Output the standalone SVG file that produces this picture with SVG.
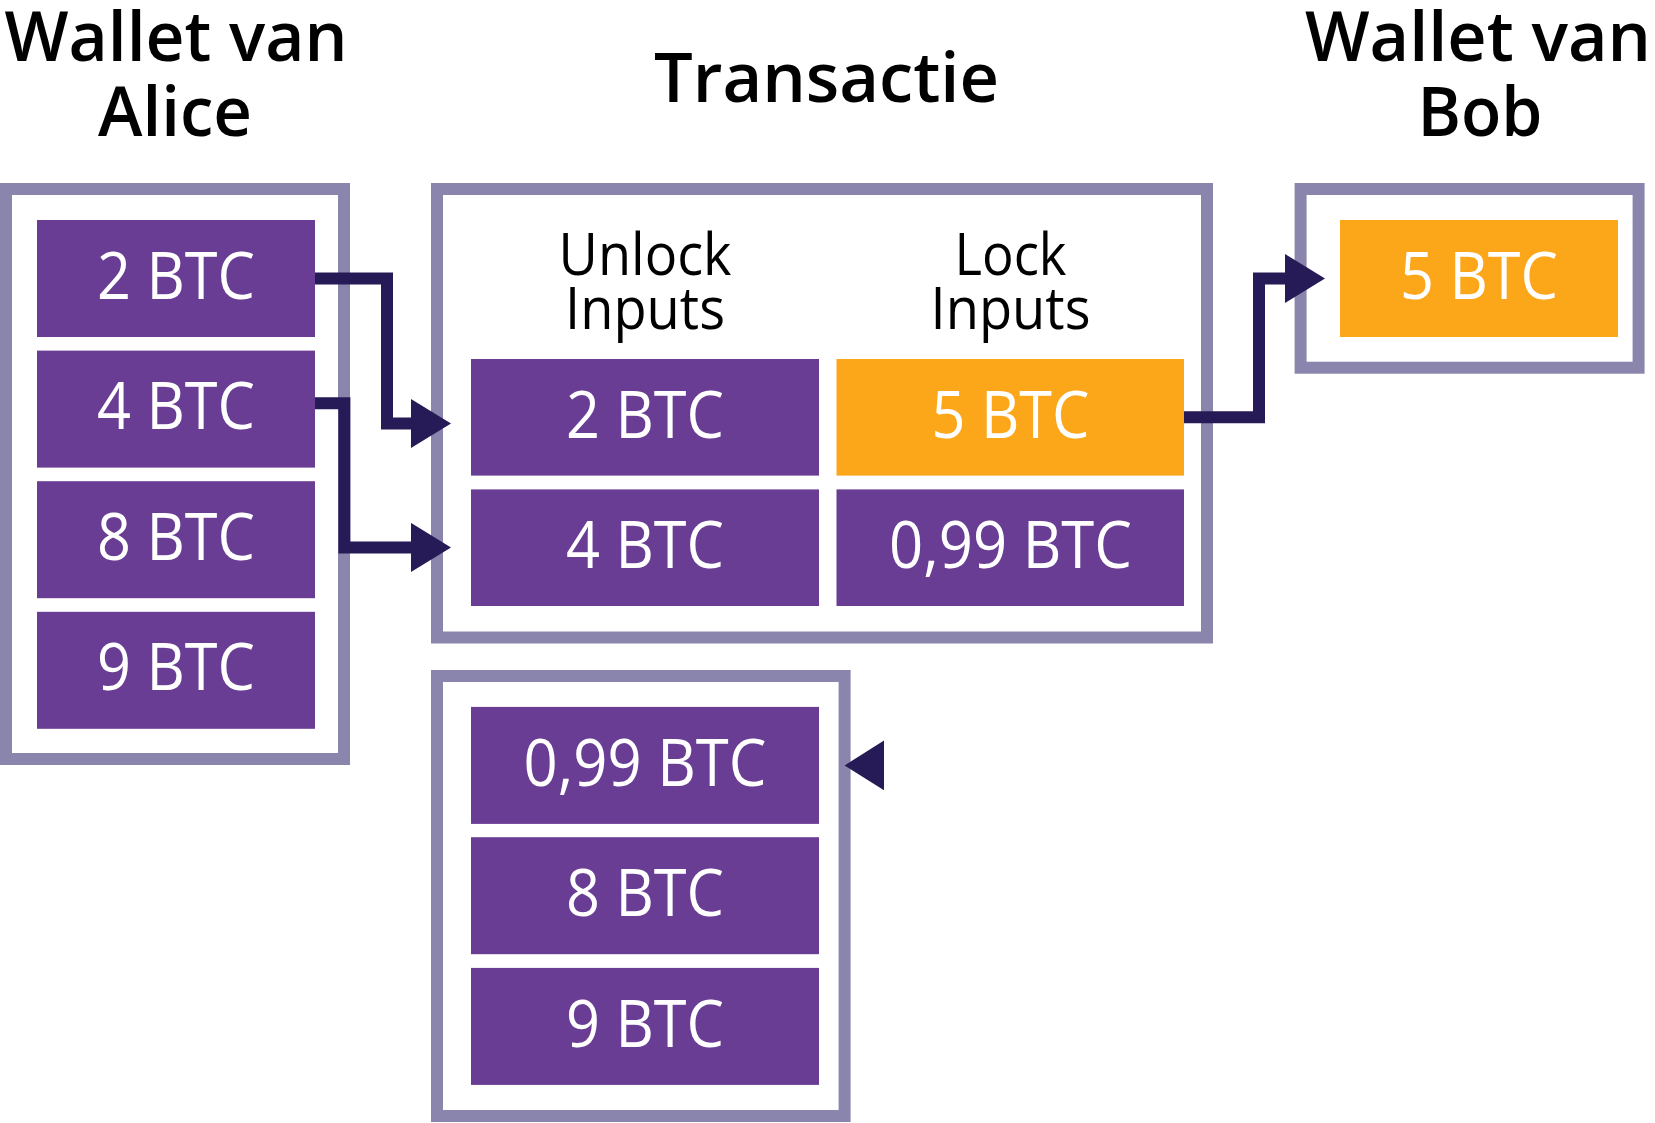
<svg xmlns="http://www.w3.org/2000/svg" width="1655" height="1123" viewBox="0 0 1655 1123">
<style>
.frame{fill:#ffffff;stroke:#8A85AD;stroke-width:12}
.coin{fill:#693D94}
.gold{fill:#FCA61A}
.ct{font-family:"Open Sans","Noto Sans",sans-serif;font-size:66px;fill:#ffffff;text-anchor:middle}
.title{font-family:"Open Sans","Noto Sans",sans-serif;font-weight:600;font-size:68px;fill:#000000;text-anchor:middle}
.head{font-family:"Open Sans","Noto Sans",sans-serif;font-size:59px;fill:#000000;text-anchor:middle}
.conn{fill:none;stroke:#261B57;stroke-width:12;stroke-linejoin:miter;stroke-linecap:butt}
</style>
<defs>
<marker id="arr" markerUnits="userSpaceOnUse" markerWidth="42" markerHeight="50" refX="2" refY="24.5" orient="auto" viewBox="0 0 42 50">
<path d="M0,0 L40,24.5 L0,49 Z" fill="#261B57"/>
</marker>
</defs>
<rect width="1655" height="1123" fill="#ffffff"/>

<g id="alice-wallet">
<text class="title" x="176" y="61" textLength="343" lengthAdjust="spacingAndGlyphs">Wallet van</text>
<text class="title" x="175" y="136" textLength="154" lengthAdjust="spacingAndGlyphs">Alice</text>
<rect class="frame" x="6" y="189" width="338" height="570"/>
<g id="alice-2"><rect class="coin" x="37" y="220" width="278" height="117"/><text class="ct" x="176" y="298.6" textLength="158" lengthAdjust="spacingAndGlyphs">2 BTC</text></g>
<g id="alice-4"><rect class="coin" x="37" y="350.6" width="278" height="117"/><text class="ct" x="176" y="429.2" textLength="158" lengthAdjust="spacingAndGlyphs">4 BTC</text></g>
<g id="alice-8"><rect class="coin" x="37" y="481.2" width="278" height="117"/><text class="ct" x="176" y="559.8" textLength="158" lengthAdjust="spacingAndGlyphs">8 BTC</text></g>
<g id="alice-9"><rect class="coin" x="37" y="611.8" width="278" height="117"/><text class="ct" x="176" y="690.4" textLength="158" lengthAdjust="spacingAndGlyphs">9 BTC</text></g>
</g>

<g id="transaction">
<text class="title" x="826.5" y="102" textLength="345" lengthAdjust="spacingAndGlyphs">Transactie</text>
<rect class="frame" x="437" y="189" width="770" height="448.5"/>
<text class="head" x="645" y="275" textLength="173" lengthAdjust="spacingAndGlyphs">Unlock</text>
<text class="head" x="645" y="329" textLength="160" lengthAdjust="spacingAndGlyphs">Inputs</text>
<text class="head" x="1010.5" y="275" textLength="112" lengthAdjust="spacingAndGlyphs">Lock</text>
<text class="head" x="1010.5" y="329" textLength="160" lengthAdjust="spacingAndGlyphs">Inputs</text>
<g id="in-2"><rect class="coin" x="471" y="359" width="348" height="116.6"/><text class="ct" x="645" y="437.6" textLength="158" lengthAdjust="spacingAndGlyphs">2 BTC</text></g>
<g id="in-4"><rect class="coin" x="471" y="489.4" width="348" height="116.6"/><text class="ct" x="645" y="568" textLength="158" lengthAdjust="spacingAndGlyphs">4 BTC</text></g>
<g id="out-5"><rect class="gold" x="836.5" y="359" width="347.5" height="116.6"/><text class="ct" x="1010.5" y="437.6" textLength="158" lengthAdjust="spacingAndGlyphs">5 BTC</text></g>
<g id="out-099"><rect class="coin" x="836.5" y="489.4" width="347.5" height="116.6"/><text class="ct" x="1010.5" y="568" textLength="243" lengthAdjust="spacingAndGlyphs">0,99 BTC</text></g>
</g>

<g id="bob-wallet">
<text class="title" x="1478" y="61" textLength="346" lengthAdjust="spacingAndGlyphs">Wallet van</text>
<text class="title" x="1480" y="136" textLength="125" lengthAdjust="spacingAndGlyphs">Bob</text>
<rect class="frame" x="1300.6" y="189" width="338" height="178.7"/>
<g id="bob-5"><rect class="gold" x="1340" y="220" width="278" height="117"/><text class="ct" x="1479" y="298.6" textLength="158" lengthAdjust="spacingAndGlyphs">5 BTC</text></g>
</g>

<g id="change-wallet">
<rect class="frame" x="437" y="676" width="407.6" height="440"/>
<g id="ch-099"><rect class="coin" x="471" y="706.9" width="348" height="117"/><text class="ct" x="645" y="785.5" textLength="243" lengthAdjust="spacingAndGlyphs">0,99 BTC</text></g>
<g id="ch-8"><rect class="coin" x="471" y="837.2" width="348" height="117"/><text class="ct" x="645" y="915.8" textLength="158" lengthAdjust="spacingAndGlyphs">8 BTC</text></g>
<g id="ch-9"><rect class="coin" x="471" y="967.9" width="348" height="117"/><text class="ct" x="645" y="1046.5" textLength="158" lengthAdjust="spacingAndGlyphs">9 BTC</text></g>
</g>

<g id="connectors">
<path class="conn" d="M315,278.5 H387 V423.5 H413" marker-end="url(#arr)"/>
<path class="conn" d="M315,403.2 H344.4 V547.4 H413" marker-end="url(#arr)"/>
<path class="conn" d="M1184,417.2 H1259 V278.5 H1287" marker-end="url(#arr)"/>
<polygon points="884,740.6 884,790.2 844.6,765.4" fill="#261B57"/>
</g>
</svg>
